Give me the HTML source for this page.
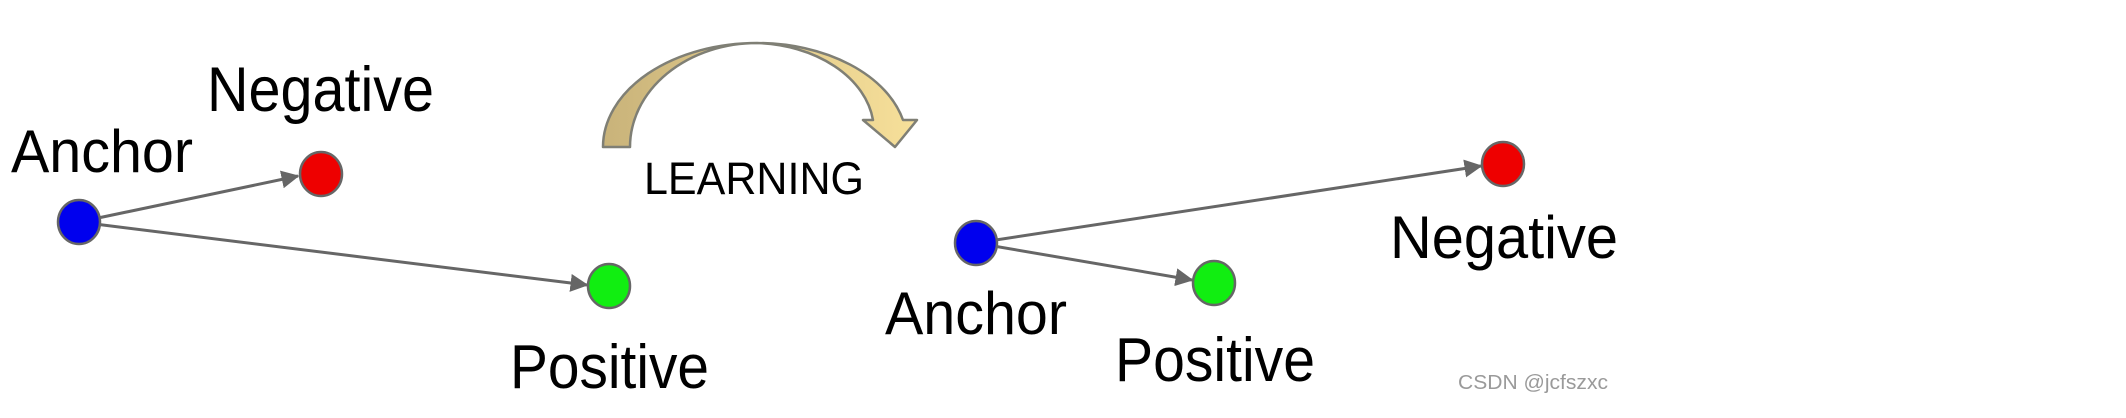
<!DOCTYPE html>
<html><head><meta charset="utf-8"><style>
html,body{margin:0;padding:0;background:#fff;}
svg{display:block;}
text{font-family:"Liberation Sans",Arial,sans-serif;fill:#000;}
</style></head><body>
<svg width="2126" height="418" viewBox="0 0 2126 418" xmlns="http://www.w3.org/2000/svg">
<defs>
<marker id="ah" markerWidth="6" markerHeight="6" refX="5.5" refY="3" orient="auto" markerUnits="strokeWidth">
<path d="M0,0 L6,3 L0,6 z" fill="#666"/>
</marker>
<linearGradient id="g" x1="0" y1="0" x2="1" y2="0">
<stop offset="0" stop-color="#c9b37a"/><stop offset="1" stop-color="#f7e09a"/>
</linearGradient>
</defs>
<!-- left group -->
<line x1="79" y1="222" x2="298" y2="176" stroke="#666" stroke-width="3" marker-end="url(#ah)"/>
<line x1="79" y1="222" x2="587" y2="285" stroke="#666" stroke-width="3" marker-end="url(#ah)"/>
<ellipse cx="79" cy="222" rx="21" ry="22" fill="#0000ee" stroke="#666" stroke-width="2.5"/>
<ellipse cx="321" cy="174" rx="21" ry="22" fill="#ee0000" stroke="#666" stroke-width="2.5"/>
<ellipse cx="609" cy="286" rx="21" ry="22" fill="#11ee11" stroke="#666" stroke-width="2.5"/>
<text x="207" y="111" font-size="63" textLength="227" lengthAdjust="spacingAndGlyphs">Negative</text>
<text x="11" y="172" font-size="60" textLength="182" lengthAdjust="spacingAndGlyphs">Anchor</text>
<text x="510" y="388" font-size="62" textLength="199" lengthAdjust="spacingAndGlyphs">Positive</text>
<!-- learning arrow -->
<path d="M603,147 A154,104 0 0 1 757,43 A150,100 0 0 1 903,120 L917,120 L895,147 L863,120 L873,120 A122,88 0 0 0 757,43 A127,104 0 0 0 630,147 Z" fill="url(#g)" stroke="#7f7f75" stroke-width="2.5" stroke-linejoin="round"/>
<text x="644" y="194" font-size="45" textLength="220" lengthAdjust="spacingAndGlyphs">LEARNING</text>
<!-- right group -->
<line x1="976" y1="243" x2="1481" y2="166" stroke="#666" stroke-width="3" marker-end="url(#ah)"/>
<line x1="976" y1="243" x2="1192" y2="280" stroke="#666" stroke-width="3" marker-end="url(#ah)"/>
<ellipse cx="976" cy="243" rx="21" ry="22" fill="#0000ee" stroke="#666" stroke-width="2.5"/>
<ellipse cx="1503" cy="164" rx="21" ry="22" fill="#ee0000" stroke="#666" stroke-width="2.5"/>
<ellipse cx="1214" cy="283" rx="21" ry="22" fill="#11ee11" stroke="#666" stroke-width="2.5"/>
<text x="1390" y="258" font-size="60" textLength="228" lengthAdjust="spacingAndGlyphs">Negative</text>
<text x="885" y="334" font-size="60" textLength="182" lengthAdjust="spacingAndGlyphs">Anchor</text>
<text x="1115" y="381" font-size="62" textLength="200" lengthAdjust="spacingAndGlyphs">Positive</text>
<text x="1458" y="389" font-size="20" style="fill:#9a9a9a" textLength="150" lengthAdjust="spacingAndGlyphs">CSDN @jcfszxc</text>
</svg>
</body></html>
